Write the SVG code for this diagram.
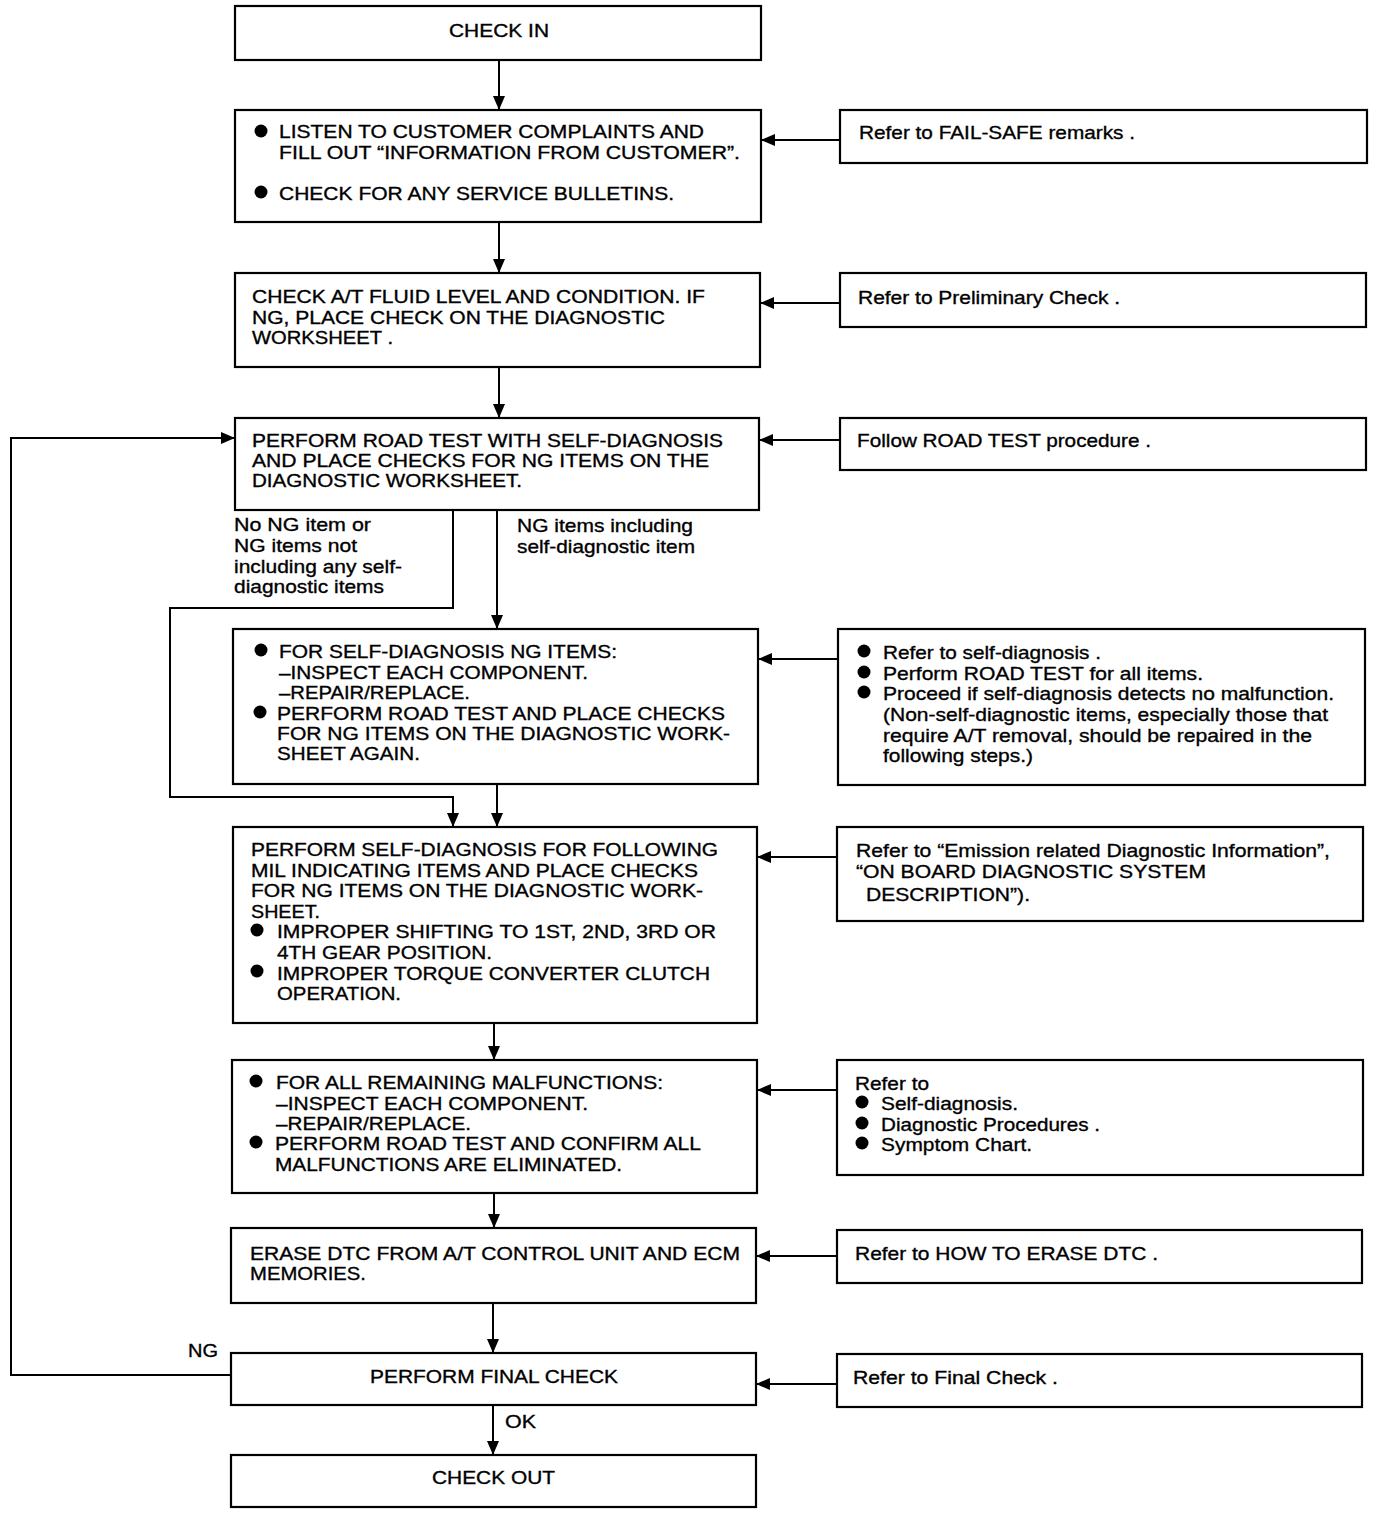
<svg xmlns="http://www.w3.org/2000/svg" width="1376" height="1516" viewBox="0 0 1376 1516">
<style>
.box{fill:#fff;stroke:#000;stroke-width:2.2}
.t{font-family:"Liberation Sans",Arial,sans-serif;font-size:19px;fill:#000;stroke:#000;stroke-width:0.35}
.c{fill:none;stroke:#000;stroke-width:2}
.b{fill:#000}
</style>
<defs>
<marker id="ah" markerUnits="userSpaceOnUse" markerWidth="14" markerHeight="12" refX="14" refY="6" orient="auto">
<path d="M0,0 L14,6 L0,12 z" fill="#000"/>
</marker>
</defs>
<rect width="1376" height="1516" fill="#fff"/>
<g id="connectors">
<path class="c" d="M499,60 V110" marker-end="url(#ah)"/>
<path class="c" d="M499,222 V273" marker-end="url(#ah)"/>
<path class="c" d="M499,367 V418" marker-end="url(#ah)"/>
<path class="c" d="M497,510 V629" marker-end="url(#ah)"/>
<path class="c" d="M453,510 V608 H170 V797 H453 V827" marker-end="url(#ah)"/>
<path class="c" d="M497,784 V827" marker-end="url(#ah)"/>
<path class="c" d="M494,1023 V1060" marker-end="url(#ah)"/>
<path class="c" d="M494,1193 V1228" marker-end="url(#ah)"/>
<path class="c" d="M493,1303 V1353" marker-end="url(#ah)"/>
<path class="c" d="M493,1405 V1455" marker-end="url(#ah)"/>
<path class="c" d="M231,1375 H11 V438 H235" marker-end="url(#ah)"/>
<path class="c" d="M840,140 H761" marker-end="url(#ah)"/>
<path class="c" d="M840,303 H760" marker-end="url(#ah)"/>
<path class="c" d="M840,440 H759" marker-end="url(#ah)"/>
<path class="c" d="M838,659 H758" marker-end="url(#ah)"/>
<path class="c" d="M837,857 H757" marker-end="url(#ah)"/>
<path class="c" d="M837,1090 H757" marker-end="url(#ah)"/>
<path class="c" d="M837,1256 H756" marker-end="url(#ah)"/>
<path class="c" d="M837,1384 H756" marker-end="url(#ah)"/>
<text class="t" x="234" y="531" textLength="137" lengthAdjust="spacingAndGlyphs">No NG item or</text>
<text class="t" x="234" y="552" textLength="123" lengthAdjust="spacingAndGlyphs">NG items not</text>
<text class="t" x="234" y="573" textLength="168" lengthAdjust="spacingAndGlyphs">including any self-</text>
<text class="t" x="234" y="593" textLength="150" lengthAdjust="spacingAndGlyphs">diagnostic items</text>
<text class="t" x="517" y="532" textLength="176" lengthAdjust="spacingAndGlyphs">NG items including</text>
<text class="t" x="517" y="553" textLength="178" lengthAdjust="spacingAndGlyphs">self-diagnostic item</text>
<text class="t" x="188" y="1357" textLength="30" lengthAdjust="spacingAndGlyphs">NG</text>
<text class="t" x="505" y="1428" textLength="31" lengthAdjust="spacingAndGlyphs">OK</text>
</g>
<g id="check-in">
<rect class="box" x="235" y="6" width="526" height="54"/>
<text class="t" x="449" y="37" textLength="100" lengthAdjust="spacingAndGlyphs">CHECK IN</text>
</g>
<g id="listen">
<rect class="box" x="235" y="110" width="526" height="112"/>
<circle class="b" cx="261" cy="131" r="6.5"/>
<circle class="b" cx="261" cy="192" r="6.5"/>
<text class="t" x="279" y="138" textLength="425" lengthAdjust="spacingAndGlyphs">LISTEN TO CUSTOMER COMPLAINTS AND</text>
<text class="t" x="279" y="159" textLength="461" lengthAdjust="spacingAndGlyphs">FILL OUT “INFORMATION FROM CUSTOMER”.</text>
<text class="t" x="279" y="200" textLength="395" lengthAdjust="spacingAndGlyphs">CHECK FOR ANY SERVICE BULLETINS.</text>
</g>
<g id="fluid">
<rect class="box" x="235" y="273" width="525" height="94"/>
<text class="t" x="252" y="303" textLength="453" lengthAdjust="spacingAndGlyphs">CHECK A/T FLUID LEVEL AND CONDITION. IF</text>
<text class="t" x="252" y="324" textLength="413" lengthAdjust="spacingAndGlyphs">NG, PLACE CHECK ON THE DIAGNOSTIC</text>
<text class="t" x="252" y="344" textLength="141" lengthAdjust="spacingAndGlyphs">WORKSHEET .</text>
</g>
<g id="road-test">
<rect class="box" x="235" y="418" width="524" height="92"/>
<text class="t" x="252" y="447" textLength="471" lengthAdjust="spacingAndGlyphs">PERFORM ROAD TEST WITH SELF-DIAGNOSIS</text>
<text class="t" x="252" y="467" textLength="457" lengthAdjust="spacingAndGlyphs">AND PLACE CHECKS FOR NG ITEMS ON THE</text>
<text class="t" x="252" y="487" textLength="270" lengthAdjust="spacingAndGlyphs">DIAGNOSTIC WORKSHEET.</text>
</g>
<g id="self-diag-ng">
<rect class="box" x="233" y="629" width="525" height="155"/>
<circle class="b" cx="261" cy="650" r="6.5"/>
<circle class="b" cx="260" cy="712" r="6.5"/>
<text class="t" x="279" y="658" textLength="338" lengthAdjust="spacingAndGlyphs">FOR SELF-DIAGNOSIS NG ITEMS:</text>
<text class="t" x="279" y="679" textLength="309" lengthAdjust="spacingAndGlyphs">–INSPECT EACH COMPONENT.</text>
<text class="t" x="279" y="699" textLength="191" lengthAdjust="spacingAndGlyphs">–REPAIR/REPLACE.</text>
<text class="t" x="277" y="720" textLength="448" lengthAdjust="spacingAndGlyphs">PERFORM ROAD TEST AND PLACE CHECKS</text>
<text class="t" x="277" y="740" textLength="453" lengthAdjust="spacingAndGlyphs">FOR NG ITEMS ON THE DIAGNOSTIC WORK-</text>
<text class="t" x="277" y="760" textLength="143" lengthAdjust="spacingAndGlyphs">SHEET AGAIN.</text>
</g>
<g id="mil">
<rect class="box" x="233" y="827" width="524" height="196"/>
<text class="t" x="251" y="856" textLength="467" lengthAdjust="spacingAndGlyphs">PERFORM SELF-DIAGNOSIS FOR FOLLOWING</text>
<text class="t" x="251" y="877" textLength="447" lengthAdjust="spacingAndGlyphs">MIL INDICATING ITEMS AND PLACE CHECKS</text>
<text class="t" x="251" y="897" textLength="452" lengthAdjust="spacingAndGlyphs">FOR NG ITEMS ON THE DIAGNOSTIC WORK-</text>
<text class="t" x="251" y="918" textLength="69" lengthAdjust="spacingAndGlyphs">SHEET.</text>
<circle class="b" cx="257" cy="930" r="6.5"/>
<circle class="b" cx="257" cy="971" r="6.5"/>
<text class="t" x="277" y="938" textLength="439" lengthAdjust="spacingAndGlyphs">IMPROPER SHIFTING TO 1ST, 2ND, 3RD OR</text>
<text class="t" x="277" y="959" textLength="215" lengthAdjust="spacingAndGlyphs">4TH GEAR POSITION.</text>
<text class="t" x="277" y="980" textLength="433" lengthAdjust="spacingAndGlyphs">IMPROPER TORQUE CONVERTER CLUTCH</text>
<text class="t" x="277" y="1000" textLength="124" lengthAdjust="spacingAndGlyphs">OPERATION.</text>
</g>
<g id="remaining">
<rect class="box" x="232" y="1060" width="525" height="133"/>
<circle class="b" cx="256" cy="1081" r="6.5"/>
<circle class="b" cx="256" cy="1142" r="6.5"/>
<text class="t" x="276" y="1089" textLength="387" lengthAdjust="spacingAndGlyphs">FOR ALL REMAINING MALFUNCTIONS:</text>
<text class="t" x="276" y="1110" textLength="312" lengthAdjust="spacingAndGlyphs">–INSPECT EACH COMPONENT.</text>
<text class="t" x="276" y="1130" textLength="195" lengthAdjust="spacingAndGlyphs">–REPAIR/REPLACE.</text>
<text class="t" x="275" y="1150" textLength="426" lengthAdjust="spacingAndGlyphs">PERFORM ROAD TEST AND CONFIRM ALL</text>
<text class="t" x="275" y="1171" textLength="347" lengthAdjust="spacingAndGlyphs">MALFUNCTIONS ARE ELIMINATED.</text>
</g>
<g id="erase">
<rect class="box" x="231" y="1228" width="525" height="75"/>
<text class="t" x="250" y="1260" textLength="490" lengthAdjust="spacingAndGlyphs">ERASE DTC FROM A/T CONTROL UNIT AND ECM</text>
<text class="t" x="250" y="1280" textLength="116" lengthAdjust="spacingAndGlyphs">MEMORIES.</text>
</g>
<g id="final-check">
<rect class="box" x="231" y="1353" width="525" height="52"/>
<text class="t" x="370" y="1383" textLength="248" lengthAdjust="spacingAndGlyphs">PERFORM FINAL CHECK</text>
</g>
<g id="check-out">
<rect class="box" x="231" y="1455" width="525" height="52"/>
<text class="t" x="432" y="1484" textLength="123" lengthAdjust="spacingAndGlyphs">CHECK OUT</text>
</g>
<g id="ref-failsafe">
<rect class="box" x="840" y="110" width="527" height="53"/>
<text class="t" x="859" y="139" textLength="276" lengthAdjust="spacingAndGlyphs">Refer to FAIL-SAFE remarks .</text>
</g>
<g id="ref-prelim">
<rect class="box" x="840" y="273" width="526" height="54"/>
<text class="t" x="858" y="304" textLength="262" lengthAdjust="spacingAndGlyphs">Refer to Preliminary Check .</text>
</g>
<g id="ref-road">
<rect class="box" x="840" y="418" width="526" height="52"/>
<text class="t" x="857" y="447" textLength="294" lengthAdjust="spacingAndGlyphs">Follow ROAD TEST procedure .</text>
</g>
<g id="ref-selfdiag">
<rect class="box" x="838" y="629" width="527" height="156"/>
<circle class="b" cx="864" cy="651" r="6.5"/>
<circle class="b" cx="864" cy="672" r="6.5"/>
<circle class="b" cx="864" cy="692" r="6.5"/>
<text class="t" x="883" y="659" textLength="218" lengthAdjust="spacingAndGlyphs">Refer to self-diagnosis .</text>
<text class="t" x="883" y="680" textLength="320" lengthAdjust="spacingAndGlyphs">Perform ROAD TEST for all items.</text>
<text class="t" x="883" y="700" textLength="451" lengthAdjust="spacingAndGlyphs">Proceed if self-diagnosis detects no malfunction.</text>
<text class="t" x="883" y="721" textLength="445" lengthAdjust="spacingAndGlyphs">(Non-self-diagnostic items, especially those that</text>
<text class="t" x="883" y="742" textLength="429" lengthAdjust="spacingAndGlyphs">require A/T removal, should be repaired in the</text>
<text class="t" x="883" y="762" textLength="150" lengthAdjust="spacingAndGlyphs">following steps.)</text>
</g>
<g id="ref-emission">
<rect class="box" x="837" y="827" width="526" height="94"/>
<text class="t" x="856" y="857" textLength="474" lengthAdjust="spacingAndGlyphs">Refer to “Emission related Diagnostic Information”,</text>
<text class="t" x="856" y="878" textLength="350" lengthAdjust="spacingAndGlyphs">“ON BOARD DIAGNOSTIC SYSTEM</text>
<text class="t" x="866" y="901" textLength="164" lengthAdjust="spacingAndGlyphs">DESCRIPTION”).</text>
</g>
<g id="ref-symptom">
<rect class="box" x="837" y="1060" width="526" height="115"/>
<text class="t" x="855" y="1090" textLength="74" lengthAdjust="spacingAndGlyphs">Refer to</text>
<circle class="b" cx="862" cy="1102" r="6.5"/>
<circle class="b" cx="862" cy="1123" r="6.5"/>
<circle class="b" cx="862" cy="1143" r="6.5"/>
<text class="t" x="881" y="1110" textLength="137" lengthAdjust="spacingAndGlyphs">Self-diagnosis.</text>
<text class="t" x="881" y="1131" textLength="219" lengthAdjust="spacingAndGlyphs">Diagnostic Procedures .</text>
<text class="t" x="881" y="1151" textLength="151" lengthAdjust="spacingAndGlyphs">Symptom Chart.</text>
</g>
<g id="ref-erase">
<rect class="box" x="837" y="1230" width="525" height="53"/>
<text class="t" x="855" y="1260" textLength="303" lengthAdjust="spacingAndGlyphs">Refer to HOW TO ERASE DTC .</text>
</g>
<g id="ref-final">
<rect class="box" x="837" y="1354" width="525" height="53"/>
<text class="t" x="853" y="1384" textLength="205" lengthAdjust="spacingAndGlyphs">Refer to Final Check .</text>
</g>
</svg>
